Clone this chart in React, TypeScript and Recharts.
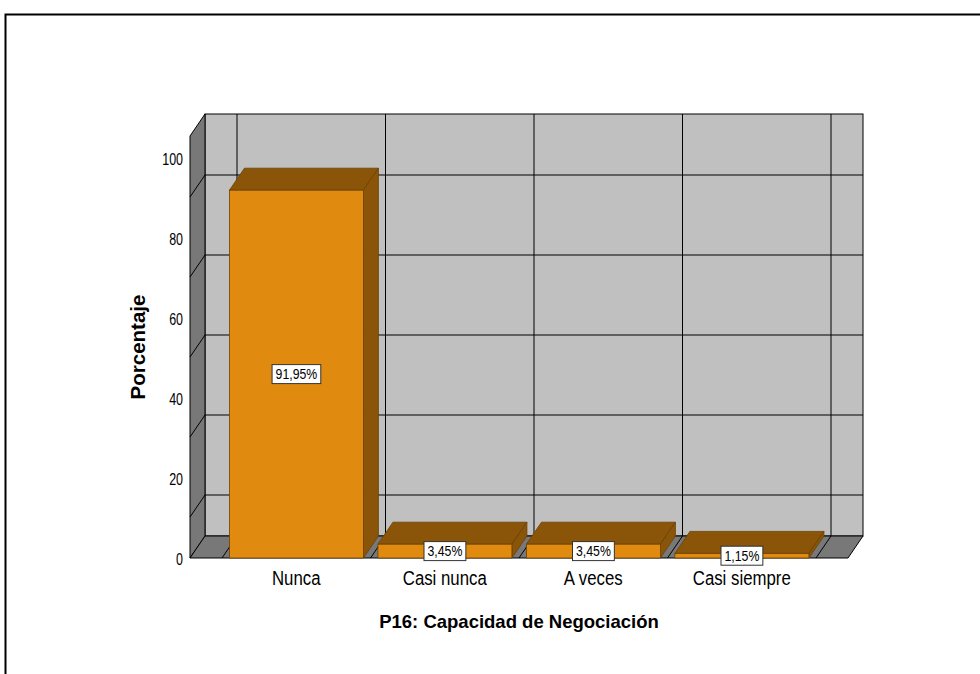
import React from 'react';
import { BarChart, Bar, XAxis, YAxis, CartesianGrid, LabelList, Label } from 'recharts';

const categories = ['Nunca', 'Casi nunca', 'A veces', 'Casi siempre'];
const percentages = [91.95, 3.45, 3.45, 1.15];
const yTicks = [0, 20, 40, 60, 80, 100];
const xTitle = 'P16: Capacidad de Negociación';
const yTitle = 'Porcentaje';

const data = categories.map((name, i) => ({ name, pct: percentages[i] }));

// layout
const W = 980;
const H = 674;
const MARGIN = { top: 158, right: 164, bottom: 86, left: 182 };
const Y_AXIS_W = 40;
const X_AXIS_H = 30;
const PL = MARGIN.left + Y_AXIS_W; // front plane left
const PR = W - MARGIN.right;
const PB = H - MARGIN.bottom - X_AXIS_H; // front floor line
const DX = 15; // 3d depth
const DY = 22;
const PAD = 32; // floor overhang on each side of the category bands
const WALL_TOP = 136;
const GRID_SHIFT = 17; // spss draws the back grid a bit lower than the front scale

// the spss output uses a condensed face, so squeeze regular Liberation Sans
const FONT = "'Liberation Sans', Arial, sans-serif";
const SQUEEZE = 0.8;

const BAR_FRONT = '#E08A10';
const BAR_DARK = '#8A5508';
const BAR_EDGE = '#6B4104';
const WALL_BACK = '#C0C0C0';
const WALL_SIDE = '#787878';

function Walls() {
  const fx0 = PL - PAD;
  const fx1 = PR + PAD;
  const bx0 = fx0 + DX;
  const bx1 = fx1 + DX;
  const by = PB - DY;
  const btop = WALL_TOP - DY;
  return (
    <svg width={W} height={H} style={{ position: 'absolute', left: 0, top: 0 }}>
      <rect x={0} y={0} width={W} height={H} fill="#fff" />
      <rect x={5.5} y={14.5} width={W} height={H} fill="#fff" stroke="#000" strokeWidth={2} />
      <rect x={bx0} y={btop} width={bx1 - bx0} height={by - btop} fill={WALL_BACK} stroke="#000" />
      <polygon
        points={`${fx0},${WALL_TOP} ${bx0},${btop} ${bx0},${by} ${fx0},${PB}`}
        fill={WALL_SIDE}
        stroke="#000"
      />
      <polygon
        points={`${fx0},${PB} ${bx0},${by} ${bx1},${by} ${fx1},${PB}`}
        fill={WALL_SIDE}
        stroke="#000"
      />
    </svg>
  );
}

const renderHLine = (p: any) => {
  const { y1, index } = p;
  if (y1 >= PB - 1) return <g key={`h-${index}`} />;
  const yb = y1 + GRID_SHIFT;
  return (
    <g key={`h-${index}`}>
      <line x1={PL - PAD + DX} y1={yb} x2={PR + PAD + DX} y2={yb} stroke="#000" strokeWidth={1} />
      <line x1={PL - PAD} y1={yb + DY} x2={PL - PAD + DX} y2={yb} stroke="#000" strokeWidth={1} />
    </g>
  );
};

const renderVLine = (p: any) => {
  const { x1, index } = p;
  return (
    <g key={`v-${index}`}>
      <line x1={x1 + DX} y1={WALL_TOP - DY} x2={x1 + DX} y2={PB - DY} stroke="#000" strokeWidth={1} />
      <line x1={x1} y1={PB} x2={x1 + DX} y2={PB - DY} stroke="#000" strokeWidth={1} />
    </g>
  );
};

const bandEdges = ({ offset }: any) => {
  const left = offset?.left ?? PL;
  const width = offset?.width ?? PR - PL;
  const n = categories.length;
  return Array.from({ length: n + 1 }, (_, i) => left + (i * width) / n);
};

const Bar3D = (p: any) => {
  const { x, y, width, height } = p;
  if (x == null || height == null) return null;
  return (
    <g>
      <polygon
        points={`${x},${y} ${x + DX},${y - DY} ${x + width + DX},${y - DY} ${x + width},${y}`}
        fill={BAR_DARK}
        stroke={BAR_EDGE}
        strokeWidth={0.8}
      />
      <polygon
        points={`${x + width},${y} ${x + width + DX},${y - DY} ${x + width + DX},${y + height - DY} ${x + width},${y + height}`}
        fill={BAR_DARK}
        stroke={BAR_EDGE}
        strokeWidth={0.8}
      />
      <rect x={x} y={y} width={width} height={height} fill={BAR_FRONT} stroke={BAR_EDGE} strokeWidth={0.8} />
    </g>
  );
};

const fmt = (v: number) => `${v.toFixed(2).replace('.', ',')}%`;

const ValueBox = (p: any) => {
  const { x, y, width, height, value } = p;
  if (x == null || value == null) return null;
  const txt = fmt(Number(value));
  let tw = 0;
  for (const ch of txt) tw += ch === ',' ? 3.4 : ch === '%' ? 10.9 : 6.85;
  const bw = tw + 7;
  const bh = 19;
  const cx = x + width / 2;
  const cy = y + height / 2;
  return (
    <g>
      <rect x={cx - bw / 2} y={cy - bh / 2} width={bw} height={bh} fill="#fff" stroke="#333" strokeWidth={1} />
      <g transform={`translate(${cx},${cy})`}>
        <text
          transform="scale(0.82,1)"
          textAnchor="middle"
          dominantBaseline="central"
          fontFamily={FONT}
          fontSize={15}
          fill="#000"
        >
          {txt}
        </text>
      </g>
    </g>
  );
};

const XTick = (p: any) => {
  const { x, y, payload } = p;
  return (
    <g transform={`translate(${x},${y})`}>
      <text transform={`scale(${SQUEEZE},1)`} textAnchor="middle" dy="0.71em" fontFamily={FONT} fontSize={21} fill="#000">
        {payload.value}
      </text>
    </g>
  );
};

const YTick = (p: any) => {
  const { x, y, payload } = p;
  return (
    <g transform={`translate(${x},${y})`}>
      <text transform="scale(0.78,1)" textAnchor="end" dy="0.45em" fontFamily={FONT} fontSize={16} fill="#000">
        {payload.value}
      </text>
    </g>
  );
};

const YTitle = () => (
  <text
    x={137}
    y={347}
    transform="rotate(-90 137 347)"
    textAnchor="middle"
    dominantBaseline="central"
    fontFamily={FONT}
    fontWeight="bold"
    fontSize={20.5}
    fill="#000"
  >
    {yTitle}
  </text>
);

export default function App() {
  return (
    <div style={{ position: 'absolute', left: 0, top: 0, width: W, height: H, background: '#fff' }}>
      <Walls />
      <div style={{ position: 'absolute', left: 0, top: 0 }}>
        <BarChart width={W} height={H} data={data} margin={MARGIN} barCategoryGap="5%">
          <CartesianGrid
            horizontal={renderHLine}
            vertical={renderVLine}
            verticalCoordinatesGenerator={bandEdges}
          />
          <XAxis
            dataKey="name"
            height={X_AXIS_H}
            axisLine={false}
            tickLine={false}
            tickSize={0}
            tickMargin={12}
            interval={0}
            tick={XTick}
          >
            <Label
              value={xTitle}
              position="bottom"
              offset={27}
              style={{ fill: '#000', fontSize: 18.5, fontWeight: 'bold', fontFamily: FONT }}
            />
          </XAxis>
          <YAxis
            type="number"
            domain={[0, 100]}
            ticks={yTicks}
            width={Y_AXIS_W}
            axisLine={false}
            tickLine={false}
            tickSize={0}
            tickMargin={39}
            tick={YTick}
          >
            <Label content={YTitle} />
          </YAxis>
          <Bar dataKey="pct" shape={Bar3D} isAnimationActive={false}>
            <LabelList dataKey="pct" content={ValueBox} />
          </Bar>
        </BarChart>
      </div>
    </div>
  );
}
